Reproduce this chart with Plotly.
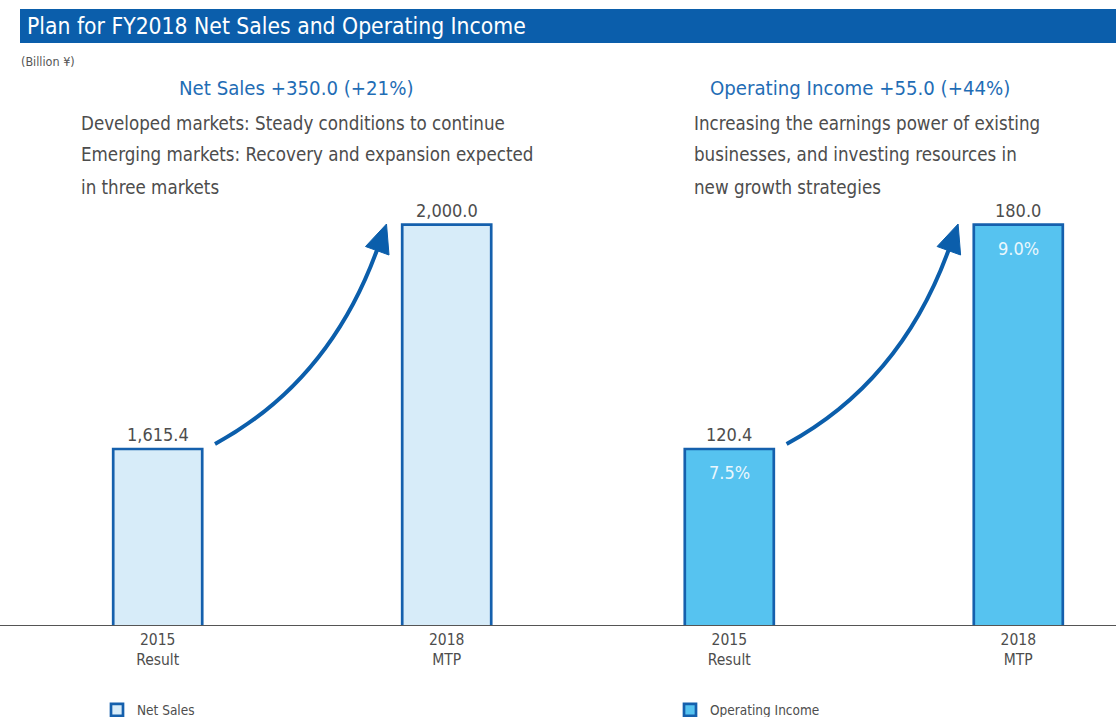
import plotly.graph_objects as go

# ---- data ----
categories = ["2015<br>Result", "2018<br>MTP"]
net_sales = [1615.4, 2000.0]
operating_income = [120.4, 180.0]
op_margin = ["7.5%", "9.0%"]
title_text = "Plan for FY2018 Net Sales and Operating Income"
unit_text = "(Billion ¥)"
ns_head = "Net Sales +350.0 (+21%)"
oi_head = "Operating Income +55.0 (+44%)"
ns_desc = ["Developed markets: Steady conditions to continue",
           "Emerging markets: Recovery and expansion expected",
           "in three markets"]
oi_desc = ["Increasing the earnings power of existing",
           "businesses, and investing resources in",
           "new growth strategies"]

# ---- style / geometry (screen pixels) ----
W, H = 1116, 717
OFF = 0
ML, MR, MT, MB = 0, 0, 100, 92
PH = H - MT - MB
BOTTOM = H - MB + OFF  # screen y of plot bottom
FONT = "DejaVu Sans Condensed, Liberation Sans Narrow, sans-serif"
BLUE = "#0b5eab"
HEAD = "#1f6db5"
EDGE = "#1560ad"
FILL_NS = "#d7ecf9"
FILL_OI = "#56c3f0"
GRAY = "#4d4d4d"


def X(px):
    return (px - OFF) / W


def Y(py):
    return (BOTTOM - py) / PH


xs = [0, 1]
fig = go.Figure()
fig.add_trace(go.Bar(x=xs, y=net_sales, width=0.308, name="Net Sales",
                     marker=dict(color=FILL_NS, line=dict(color=EDGE, width=2.7)),
                     xaxis="x", yaxis="y", legend="legend", hoverinfo="skip"))
fig.add_trace(go.Bar(x=xs, y=operating_income, width=0.308, name="Operating Income",
                     marker=dict(color=FILL_OI, line=dict(color=EDGE, width=2.7)),
                     xaxis="x2", yaxis="y2", legend="legend2", hoverinfo="skip"))

axis_common = dict(tickmode="array", tickvals=xs, ticktext=categories,
                   showgrid=False, zeroline=False, showline=True,
                   linecolor="#555555", linewidth=1, ticks="",
                   tickfont=dict(family=FONT, size=15.5, color=GRAY), fixedrange=True)
fig.update_layout(
    width=W, height=H, margin=dict(l=ML, r=MR, t=MT, b=MB, autoexpand=False),
    paper_bgcolor="white", plot_bgcolor="white",
    bargap=0,
    xaxis=dict(domain=[0, 0.5], range=[-0.5457, 1.3851], **axis_common),
    xaxis2=dict(domain=[0.5, 1], range=[-0.5927, 1.3381], **axis_common),
    yaxis=dict(range=[1313.6, 2213.8], visible=False, fixedrange=True),
    yaxis2=dict(range=[73.63, 213.13], visible=False, fixedrange=True, anchor="x2"),
    legend=dict(x=X(97), y=Y(710), xanchor="left", yanchor="middle",
                font=dict(family=FONT, size=13.5, color=GRAY), bgcolor="rgba(0,0,0,0)"),
    legend2=dict(x=X(670), y=Y(710), xanchor="left", yanchor="middle",
                 font=dict(family=FONT, size=13.5, color=GRAY), bgcolor="rgba(0,0,0,0)"),
    showlegend=True,
)

shapes = []
annotations = []
# title bar
shapes.append(dict(type="rect", xref="paper", yref="paper", x0=X(20), x1=X(1116),
                   y0=Y(43), y1=Y(9), fillcolor=BLUE, line=dict(width=0), layer="above"))
annotations.append(dict(xref="paper", yref="paper", x=X(25), y=Y(26), xanchor="left",
                        yanchor="middle", text=title_text, showarrow=False,
                        font=dict(family=FONT, size=22.7, color="white")))
annotations.append(dict(xref="paper", yref="paper", x=X(19), y=Y(61), xanchor="left",
                        yanchor="middle", text=unit_text, showarrow=False,
                        font=dict(family=FONT, size=12.5, color="#555555")))
# headlines
annotations.append(dict(xref="paper", yref="paper", x=X(296), y=Y(88), xanchor="center",
                        yanchor="middle", text=ns_head, showarrow=False,
                        font=dict(family=FONT, size=20.2, color=HEAD)))
annotations.append(dict(xref="paper", yref="paper", x=X(860), y=Y(88), xanchor="center",
                        yanchor="middle", text=oi_head, showarrow=False,
                        font=dict(family=FONT, size=20.2, color=HEAD)))
for i, line in enumerate(ns_desc):
    annotations.append(dict(xref="paper", yref="paper", x=X(79), y=Y(123 + 32 * i),
                            xanchor="left", yanchor="middle", text=line, showarrow=False,
                            font=dict(family=FONT, size=18.6, color=GRAY)))
for i, line in enumerate(oi_desc):
    annotations.append(dict(xref="paper", yref="paper", x=X(692), y=Y(123 + 32 * i),
                            xanchor="left", yanchor="middle", text=line, showarrow=False,
                            font=dict(family=FONT, size=18.6, color=GRAY)))

# value labels
for xv, v in zip(xs, net_sales):
    annotations.append(dict(xref="x", yref="y", x=xv, y=v, yanchor="bottom", yshift=2,
                            text=f"{v:,.1f}", showarrow=False,
                            font=dict(family=FONT, size=18, color=GRAY)))
for xv, v, m in zip(xs, operating_income, op_margin):
    annotations.append(dict(xref="x2", yref="y2", x=xv, y=v, yanchor="bottom", yshift=2,
                            text=f"{v:,.1f}", showarrow=False,
                            font=dict(family=FONT, size=18, color=GRAY)))
    annotations.append(dict(xref="x2", yref="y2", x=xv, y=v, yanchor="middle", yshift=-24,
                            text=m, showarrow=False,
                            font=dict(family=FONT, size=18, color="#eaf7fd")))

# curved arrows
for dx in (0, 571.6):
    p0 = (215 + dx, 444)
    c = (329 + dx, 382)
    p2 = (377 + dx, 250)
    tip = (386.5 + dx, 224)
    b1 = (365.5 + dx, 246.5)
    b2 = (389 + dx, 255)
    path = f"M {X(p0[0])},{Y(p0[1])} Q {X(c[0])},{Y(c[1])} {X(p2[0])},{Y(p2[1])}"
    shapes.append(dict(type="path", xref="paper", yref="paper", path=path,
                       line=dict(color=BLUE, width=4), layer="above"))
    head = (f"M {X(tip[0])},{Y(tip[1])} L {X(b1[0])},{Y(b1[1])} "
            f"L {X(b2[0])},{Y(b2[1])} Z")
    shapes.append(dict(type="path", xref="paper", yref="paper", path=head,
                       fillcolor=BLUE, line=dict(color=BLUE, width=1), layer="above"))

fig.update_layout(shapes=shapes, annotations=annotations)
fig.write_html(
    "out.html",
    config={"displayModeBar": False, "staticPlot": True},
    post_script="document.body.style.margin='0';document.body.style.overflow='hidden';",
)
